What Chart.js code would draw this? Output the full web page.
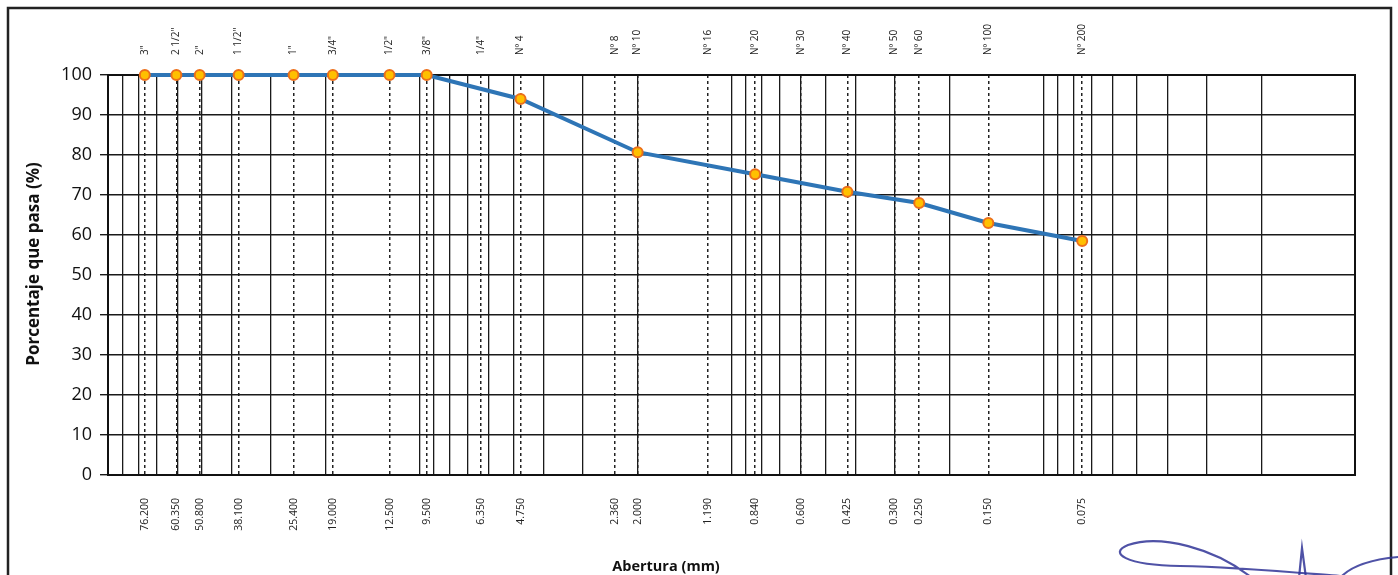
<!DOCTYPE html>
<html>
<head>
<meta charset="utf-8">
<script src="https://cdn.jsdelivr.net/npm/chart.js@4.4.1/dist/chart.umd.min.js"></script>
<style>
  body { margin: 0; background: #fff; }
  canvas { display: block; }
</style>
</head>
<body>
<canvas id="granulometria" width="1398" height="575"></canvas>
<script>
////////////////////////////// Curva granulometrica - datos ///////////////////////////////
const sieveNames = ['3"', '2 1/2"', '2"', '1 1/2"', '1"', '3/4"', '1/2"', '3/8"', '1/4"', 'Nº 4',
                    'Nº 8', 'Nº 10', 'Nº 16', 'Nº 20', 'Nº 30', 'Nº 40', 'Nº 50', 'Nº 60', 'Nº 100', 'Nº 200'];
const sieveMm = [76.2, 60.35, 50.8, 38.1, 25.4, 19.0, 12.5, 9.5, 6.35, 4.75,
                 2.36, 2.0, 1.19, 0.84, 0.6, 0.425, 0.3, 0.25, 0.15, 0.075];
// % que pasa (null = tamiz sin lectura)
const passing = [100, 100, 100, 100, 100, 100, 100, 100, null, 94.0,
                 null, 80.7, null, 75.2, null, 70.8, null, 68.0, 63.0, 58.5];

// lineas del papel semilogaritmico: 1..9 x 10^n
const logGrid = [];
for (let e = -2; e <= 1; e++) {
    for (let m = 1; m <= 9; m++) logGrid.push(+(m * Math.pow(10, e)).toFixed(4));
}
logGrid.push(100);

const granu = document.getElementById('granulometria');

const paper = {
    id: 'paper',
    beforeDraw(chart) {
        const c = chart.ctx;
        c.save();
        c.fillStyle = '#fff';
        c.fillRect(0, 0, chart.width, chart.height);
        c.strokeStyle = '#222';
        c.lineWidth = 2.5;
        c.strokeRect(8, 8, 1383, 640);
        c.restore();
    },
    beforeDatasetsDraw(chart) {
        const {ctx: c, chartArea: a} = chart;
        c.save();
        c.strokeStyle = '#111';
        c.lineWidth = 2;
        c.strokeRect(a.left, a.top, a.right - a.left, a.bottom - a.top);
        c.restore();
    },
    afterDraw(chart) {
        const c = chart.ctx;
        c.save();
        c.fillStyle = '#111';
        c.textAlign = 'center';
        c.textBaseline = 'middle';
        c.font = 'bold 14.5px "Open Sans"';
        c.fillText('Abertura (mm)', 666, 567);
        c.font = 'bold 17px "Open Sans"';
        c.translate(34, 264);
        c.rotate(-Math.PI / 2);
        c.fillText('Porcentaje que pasa (%)', 0, 0);
        c.restore();

        // firma
        c.save();
        c.strokeStyle = 'rgba(48,52,150,0.85)';
        c.lineWidth = 2.2;
        c.lineCap = 'round';
        c.beginPath();
        c.moveTo(1252, 578);
        c.bezierCurveTo(1215, 548, 1160, 534, 1128, 545);
        c.bezierCurveTo(1108, 553, 1125, 565, 1180, 566);
        c.bezierCurveTo(1235, 567, 1290, 572, 1340, 576);
        c.stroke();
        c.beginPath();
        c.moveTo(1299, 578);
        c.lineTo(1302, 548);
        c.lineTo(1306, 578);
        c.stroke();
        c.beginPath();
        c.moveTo(1340, 578);
        c.quadraticCurveTo(1355, 561, 1398, 557);
        c.stroke();
        c.restore();
    }
};

new Chart(granu, {
    type: 'line',
    data: {
        datasets: [
            {
                data: sieveMm.map((mm, i) => ({x: mm, y: passing[i]})),
                borderColor: '#2e75b6',
                borderWidth: 4,
                pointRadius: 5,
                pointBackgroundColor: '#ffc000',
                pointBorderColor: '#ec6f1a',
                pointBorderWidth: 2,
                spanGaps: true,
                tension: 0,
                clip: false
            }
        ]
    },
    options: {
        responsive: false,
        animation: false,
        events: [],
        layout: {padding: {left: 0, right: 43, top: 0, bottom: 0}},
        plugins: {legend: {display: false}, tooltip: {enabled: false}},
        scales: {
            // aberturas en mm (abajo) + lineas punteadas de cada tamiz
            x: {
                type: 'logarithmic', reverse: true, min: 0.01, max: 100, position: 'bottom',
                afterBuildTicks: s => { s.ticks = sieveMm.map(v => ({value: v})); },
                afterFit: s => { s.height = 100; },
                ticks: {
                    autoSkip: false, minRotation: 90, maxRotation: 90, padding: 23,
                    color: '#222', font: {family: 'Open Sans', size: 10.5},
                    callback: v => Number(v).toFixed(3)
                },
                grid: {color: '#222', lineWidth: 1.5, drawTicks: false},
                border: {display: false, dash: [3, 3]}
            },
            // cuadricula logaritmica
            xg: {
                type: 'logarithmic', reverse: true, min: 0.01, max: 100, position: 'bottom', display: true,
                afterBuildTicks: s => { s.ticks = logGrid.map(v => ({value: v})); },
                afterFit: s => { s.height = 0; },
                ticks: {display: false},
                grid: {color: '#1a1a1a', lineWidth: 1.3, drawTicks: false},
                border: {display: false}
            },
            // nombres de tamices (arriba)
            xt: {
                type: 'logarithmic', reverse: true, min: 0.01, max: 100, position: 'top', display: true,
                afterBuildTicks: s => { s.ticks = sieveMm.map(v => ({value: v})); },
                afterFit: s => { s.height = 75; },
                ticks: {
                    autoSkip: false, minRotation: 90, maxRotation: 90, padding: 20, labelOffset: 12,
                    color: '#222', font: {family: 'Open Sans', size: 10},
                    callback: v => sieveNames[sieveMm.indexOf(v)]
                },
                grid: {display: false, drawTicks: false},
                border: {display: false}
            },
            y: {
                min: 0, max: 100,
                afterFit: s => { s.width = 108; },
                ticks: {stepSize: 10, padding: 8, color: '#111', font: {family: 'Open Sans', size: 18}},
                grid: {color: '#1a1a1a', lineWidth: 1.4, tickLength: 8},
                border: {color: '#111', width: 2}
            }
        }
    },
    plugins: [paper]
});
</script>
</body>
</html>
